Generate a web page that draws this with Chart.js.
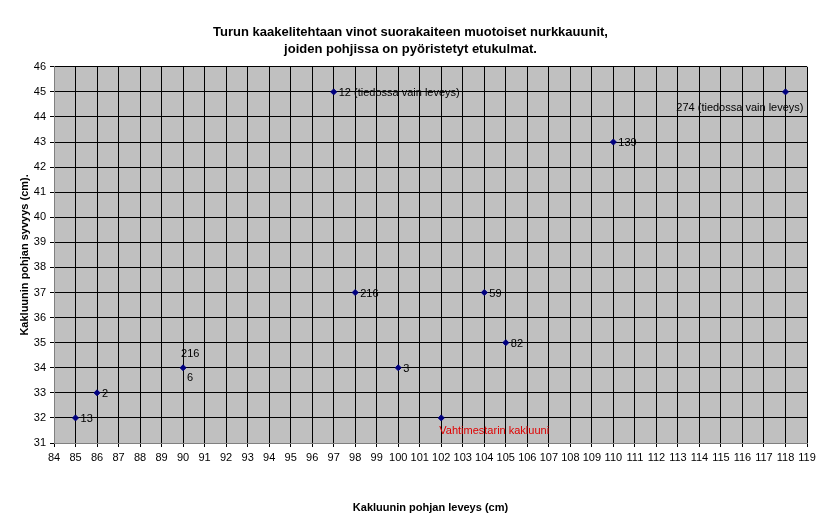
<!DOCTYPE html>
<html><head><meta charset="utf-8">
<script src="https://cdn.jsdelivr.net/npm/chart.js@4/dist/chart.umd.min.js"></script>
<style>html,body{margin:0;padding:0;background:#fff}#w{width:829px;height:519px}</style>
</head><body><div id="w"><canvas id="c"></canvas></div>
<script>
const widths  = [85, 86, 90, 97, 98, 100, 102, 104, 105, 110, 118];
const depths  = [32, 33, 34, 45, 37, 34, 32, 37, 35, 43, 45];
const labels  = ["13", "2", "6", "12 (tiedossa vain leveys)", "216", "3", "Vahtimestarin kakluuni", "59", "82", "139", "274 (tiedossa vain leveys)"];
const extraLabel = {index: 2, text: "216"};
const labelColors = ["#000","#000","#000","#000","#000","#000","#e00000","#000","#000","#000","#000"];
// label placement: [dx, dy, align, baseline]
const place = [[5,1,'left','middle'],[5,1,'left','middle'],[4,10,'left','middle'],[5,1,'left','middle'],[5,1,'left','middle'],[5,1,'left','middle'],[-2,13,'left','middle'],[5,1,'left','middle'],[5,1,'left','middle'],[5,1,'left','middle'],[18,16,'right','middle']];

const labelPlugin = {
  id: 'lbl',
  afterDatasetsDraw(chart) {
    const ctx = chart.ctx, meta = chart.getDatasetMeta(0);
    ctx.save(); ctx.font = '11px Arial';
    meta.data.forEach((p, i) => {
      const [dx, dy, al, bl] = place[i];
      ctx.fillStyle = labelColors[i]; ctx.textAlign = al; ctx.textBaseline = bl;
      ctx.fillText(labels[i], p.x + dx, p.y + dy);
    });
    const p = meta.data[extraLabel.index];
    ctx.fillStyle = '#000'; ctx.textAlign = 'left';
    ctx.fillText(extraLabel.text, p.x - 2, p.y - 14);
    ctx.restore();
  }
};

new Chart(document.getElementById('c'), {
  type: 'scatter',
  data: { datasets: [{
    data: widths.map((x, i) => ({x, y: depths[i]})),
    backgroundColor: '#000080', borderColor: '#000080',
    pointStyle: 'rectRot', pointRadius: 3, pointHoverRadius: 3
  }]},
  options: {
    responsive: true, maintainAspectRatio: false, animation: false,
    layout: { padding: { left: 14, right: 22, top: 0, bottom: 0 } },
    plugins: {
      legend: { display: false }, tooltip: { enabled: false },
      title: { display: true, text: ['Turun kaakelitehtaan vinot suorakaiteen muotoiset nurkkauunit,', 'joiden pohjissa on pyöristetyt etukulmat.'],
        color: '#000', font: { family: 'Arial', size: 13, weight: 'bold', lineHeight: 1.3 }, padding: { top: 24, bottom: 9 } }
    },
    scales: {
      x: { type: 'linear', min: 84, max: 119,
        ticks: { stepSize: 1, color: '#000', font: { family: 'Arial', size: 11 }, padding: 4, maxRotation: 0, minRotation: 0, autoSkip: false },
        grid: { color: '#000', lineWidth: 1, drawTicks: true, tickLength: 4, tickColor: '#000' },
        border: { color: '#808080' },
        title: { display: true, text: 'Kakluunin pohjan leveys (cm)', color: '#000', font: { family: 'Arial', size: 11, weight: 'bold' }, padding: { top: 30 } },
        afterFit(s) { s.height = 76; } },
      y: { min: 31, max: 46,
        ticks: { stepSize: 1, color: '#000', font: { family: 'Arial', size: 11 }, padding: 4 },
        grid: { color: '#000', lineWidth: 1, tickLength: 4, tickColor: '#000' },
        border: { color: '#808080' },
        title: { display: true, text: 'Kakluunin pohjan syvyys (cm).', color: '#000', font: { family: 'Arial', size: 11, weight: 'bold' } },
        afterFit(s) { s.width = 40; } }
    }
  },
  plugins: [labelPlugin, {
    id: 'bg',
    beforeDraw(chart) {
      const a = chart.chartArea, ctx = chart.ctx;
      ctx.save(); ctx.fillStyle = '#c0c0c0'; ctx.fillRect(a.left, a.top, a.right - a.left, a.bottom - a.top); ctx.restore();
    }
  }]
});
</script></body></html>
